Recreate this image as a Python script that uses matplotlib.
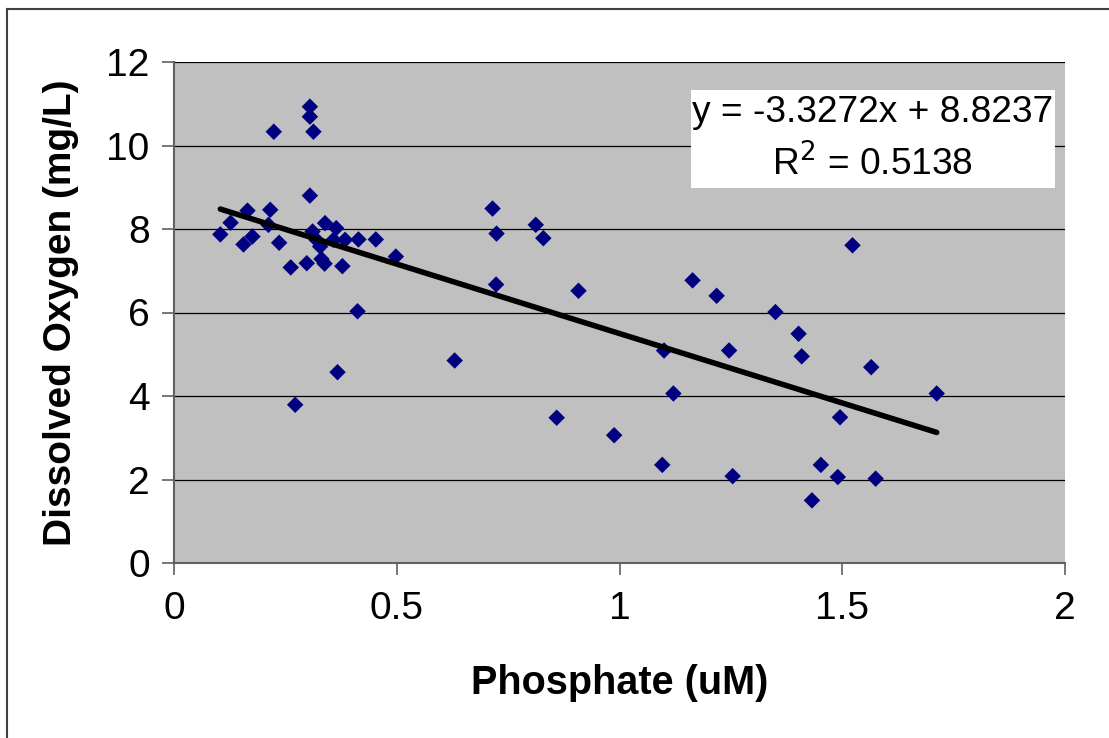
import matplotlib
matplotlib.use("Agg")
import matplotlib.pyplot as plt
from matplotlib.lines import Line2D
import numpy as np

plt.rcParams['font.family'] = ['Liberation Sans', 'DejaVu Sans']

phosphate = [0.104, 0.127, 0.156, 0.165, 0.176, 0.212, 0.216, 0.224, 0.236, 0.262,
             0.272, 0.298, 0.305, 0.305, 0.305, 0.311, 0.313, 0.320, 0.328, 0.331,
             0.338, 0.339, 0.358, 0.364, 0.367, 0.378, 0.384, 0.412, 0.414, 0.453,
             0.498, 0.630, 0.715, 0.723, 0.724, 0.812, 0.829, 0.859, 0.908, 0.988,
             1.096, 1.100, 1.121, 1.164, 1.218, 1.246, 1.254, 1.350, 1.402, 1.409,
             1.432, 1.452, 1.490, 1.495, 1.523, 1.565, 1.575, 1.712]
oxygen = [7.87, 8.15, 7.63, 8.44, 7.82, 8.10, 8.46, 10.33, 7.67, 7.08,
          3.79, 7.18, 10.93, 10.69, 8.80, 7.94, 10.33, 7.74, 7.58, 7.28,
          7.17, 8.14, 7.74, 8.02, 4.57, 7.11, 7.74, 6.03, 7.75, 7.75,
          7.34, 4.85, 8.49, 6.67, 7.89, 8.10, 7.78, 3.48, 6.52, 3.06,
          2.35, 5.09, 4.06, 6.77, 6.40, 5.09, 2.08, 6.01, 5.49, 4.95,
          1.50, 2.35, 2.06, 3.49, 7.61, 4.69, 2.02, 4.06]
slope = -3.3272
intercept = 8.8237
r_squared = 0.5138
x_ticks = [0, 0.5, 1, 1.5, 2]
x_tick_labels = ["0", "0.5", "1", "1.5", "2"]
y_ticks = [0, 2, 4, 6, 8, 10, 12]
y_tick_labels = ["0", "2", "4", "6", "8", "10", "12"]

W, H = 1109, 738
fig = plt.figure(figsize=(W / 100, H / 100), dpi=100)
fig.patch.set_facecolor('white')

# outer chart border (left and top)
fig.add_artist(Line2D([7 / W, 7 / W], [0, 1 - 9 / H], transform=fig.transFigure,
                      color='#404040', lw=1.5))
fig.add_artist(Line2D([7 / W, 1], [1 - 9 / H, 1 - 9 / H], transform=fig.transFigure,
                      color='#404040', lw=1.5))

left, right, top, bottom = 174, 1065, 62, 563
ax = fig.add_axes([left / W, 1 - bottom / H, (right - left) / W, (bottom - top) / H])
ax.set_facecolor('#C0C0C0')

ax.set_xlim(0, 2)
ax.set_ylim(0, 12)
for yv in y_ticks[1:]:
    ax.axhline(yv, color='black', lw=0.9, zorder=1)

ax.scatter(phosphate, oxygen, marker='D', s=8.4 ** 2, color='#000080',
           edgecolors='none', zorder=3)

xs = np.array([min(phosphate), max(phosphate)])
ax.plot(xs, slope * xs + intercept, color='black', lw=4.0, solid_capstyle='round', zorder=4)

ax.set_xticks(x_ticks)
ax.set_xticklabels(x_tick_labels)
ax.set_yticks(y_ticks)
ax.set_yticklabels(y_tick_labels)
ax.tick_params(axis='both', direction='out', length=8.5, width=1.2, color='#606060',
               labelsize=28, colors='black')
ax.tick_params(axis='x', pad=12)
ax.tick_params(axis='y', pad=9)
for s in ['top', 'right']:
    ax.spines[s].set_visible(False)
for s in ['left', 'bottom']:
    ax.spines[s].set_color('#606060')
    ax.spines[s].set_linewidth(1.5)

ax.set_xlabel("Phosphate (uM)", fontsize=28.5, fontweight='bold', labelpad=26)
ax.set_ylabel("Dissolved Oxygen (mg/L)", fontsize=28, fontweight='bold', labelpad=20)

# equation box
bx0, bx1, by0, by1 = 691, 1055, 90, 188
ax.add_patch(plt.Rectangle((bx0 / W, 1 - by1 / H), (bx1 - bx0) / W, (by1 - by0) / H,
                           transform=fig.transFigure, facecolor='white',
                           edgecolor='none', zorder=5))
fig.text((bx0 + bx1) / 2 / W, 1 - 113 / H, f"y = {slope}x + {intercept}",
         ha='center', va='center', fontsize=26.7, zorder=6)
fig.text((bx0 + bx1) / 2 / W, 1 - 164 / H, f"R$^2$ = {r_squared}",
         ha='center', va='center', fontsize=26.7, zorder=6)

fig.savefig("out.png", dpi=100, facecolor='white')
